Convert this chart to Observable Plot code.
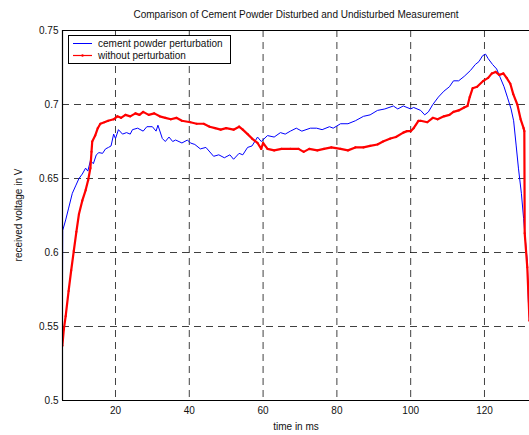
<!DOCTYPE html>
<html><head><meta charset="utf-8">
<script src="https://cdn.jsdelivr.net/npm/d3@7"></script>
<script src="https://cdn.jsdelivr.net/npm/@observablehq/plot@0.6"></script>
<style>
body{margin:0;background:#fff;font-family:"Liberation Sans",Arial,sans-serif;}
#wrap{position:relative;width:529px;height:435px;overflow:hidden;}
.lbl{position:absolute;font-size:10px;color:#111;white-space:nowrap;}
#legend{position:absolute;left:68px;top:35px;width:161px;height:27px;border:1px solid #000;background:#fff;}
</style></head>
<body><div id="wrap"></div>
<script>
const title = "Comparison of Cement Powder Disturbed and Undisturbed Measurement";
const xLabel = "time in ms";
const yLabel = "received voltage in V";
const seriesNames = ["cement powder perturbation", "without perturbation"];
const xTicks = [20, 40, 60, 80, 100, 120];
const yTicks = [0.5, 0.55, 0.6, 0.65, 0.7, 0.75];

const cementTime = [5.6,5.7,6.5,7.3,8.3,9.2,10.1,11.0,11.9,12.5,13.2,14.0,14.8,15.5,16.5,17.3,18.1,18.8,19.5,20.0,20.8,21.9,23.0,24.0,24.6,26.0,27.5,28.5,30.0,31.0,31.5,32.7,33.5,34.5,35.5,36.3,38.0,39.5,40.3,41.5,43.0,44.5,46.6,48.0,49.5,51.0,52.0,53.5,54.5,55.8,57.0,58.5,59.5,61.2,63.0,64.7,66.0,67.4,69.0,70.5,72.8,74.5,76.0,78.0,79.0,81.0,83.0,85.0,87.2,89.0,91.0,93.0,95.3,96.5,98.0,100.0,100.8,102.7,103.8,104.8,106.0,107.5,109.0,110.5,111.6,113.0,114.5,116.2,117.5,118.5,119.5,120.3,121.0,122.2,123.3,124.3,125.3,126.2,127.2,127.9,128.6,129.2,130.0,130.6,131.2,131.6,131.9,132.2];
const cementVolt = [0.548,0.615,0.622,0.630,0.640,0.645,0.650,0.653,0.657,0.655,0.662,0.660,0.666,0.6675,0.667,0.670,0.671,0.672,0.680,0.677,0.683,0.680,0.681,0.680,0.683,0.684,0.682,0.685,0.685,0.682,0.686,0.677,0.675,0.678,0.675,0.676,0.674,0.676,0.674,0.673,0.670,0.671,0.665,0.666,0.664,0.666,0.663,0.667,0.666,0.671,0.672,0.678,0.675,0.679,0.678,0.681,0.680,0.682,0.684,0.682,0.684,0.684,0.683,0.685,0.684,0.687,0.687,0.689,0.692,0.693,0.696,0.697,0.699,0.697,0.699,0.697,0.698,0.696,0.693,0.695,0.700,0.705,0.709,0.712,0.716,0.716,0.719,0.723,0.727,0.729,0.733,0.734,0.731,0.727,0.724,0.718,0.712,0.705,0.697,0.689,0.672,0.657,0.640,0.623,0.605,0.594,0.567,0.555];

const plainTime = [5.6,6.0,6.5,7.3,8.0,8.7,9.4,10.1,11.0,11.9,12.6,13.2,13.5,13.7,14.5,15.2,15.9,17.0,18.0,19.5,20.5,21.5,22.7,24.0,25.4,26.5,27.5,29.0,30.5,32.0,33.5,35.0,36.5,38.0,40.3,42.0,43.9,45.5,47.0,48.5,50.0,52.0,53.5,54.5,55.8,57.0,58.5,59.5,60.0,61.2,63.0,65.0,67.4,69.6,71.0,72.5,74.7,76.5,78.5,81.0,83.0,85.0,87.2,89.0,91.0,92.5,94.5,96.0,98.0,99.0,100.0,100.8,102.1,102.7,104.5,106.0,107.3,109.0,110.5,111.6,113.0,114.5,115.4,116.0,116.8,118.0,119.7,121.0,122.0,123.0,124.0,125.1,126.0,127.0,127.8,128.9,129.8,130.6,130.8,130.9,131.6,132.2];
const plainVolt = [0.537,0.548,0.557,0.574,0.588,0.601,0.614,0.626,0.635,0.642,0.649,0.657,0.668,0.675,0.679,0.684,0.687,0.688,0.689,0.690,0.692,0.691,0.693,0.692,0.694,0.693,0.695,0.693,0.694,0.692,0.691,0.690,0.691,0.689,0.688,0.687,0.687,0.685,0.684,0.683,0.684,0.683,0.685,0.683,0.680,0.677,0.674,0.670,0.674,0.670,0.669,0.670,0.670,0.670,0.668,0.670,0.669,0.670,0.671,0.670,0.669,0.671,0.671,0.672,0.673,0.675,0.677,0.678,0.681,0.682,0.682,0.684,0.689,0.689,0.688,0.691,0.690,0.692,0.693,0.695,0.696,0.698,0.699,0.705,0.711,0.712,0.716,0.718,0.721,0.722,0.720,0.721,0.718,0.714,0.707,0.700,0.690,0.684,0.682,0.613,0.590,0.554];

const cement = cementTime.map((t, i) => ({t, v: cementVolt[i]}));
const plain = plainTime.map((t, i) => ({t, v: plainVolt[i]}));
const blue = "#0000ff", red = "#ff0000";

const chart = Plot.plot({
  width: 529, height: 435,
  marginLeft: 62, marginRight: 0, marginTop: 30, marginBottom: 35,
  style: {fontFamily: '"Liberation Sans", Arial, sans-serif', fontSize: "10px", color: "#111", background: "transparent"},
  x: {domain: [5.64, 132.2], ticks: xTicks, label: null},
  y: {domain: [0.5, 0.75], ticks: yTicks, label: null},
  marks: [
    Plot.ruleX(xTicks, {stroke: "#000", strokeOpacity: 0.75, strokeDasharray: "7,5"}),
    Plot.ruleY(yTicks.slice(1, -1), {stroke: "#000", strokeOpacity: 0.75, strokeDasharray: "7,5"}),
    Plot.line(cement, {x: "t", y: "v", stroke: blue, strokeWidth: 1, clip: true}),
    Plot.line(plain, {x: "t", y: "v", stroke: red, strokeWidth: 2.2, clip: true}),
    Plot.dot(plain, {x: "t", y: "v", fill: red, r: 1.1, clip: true}),
    Plot.ruleX([5.64], {stroke: "#000", strokeWidth: 1.2}),
    Plot.ruleY([0.5, 0.75], {stroke: "#000", strokeWidth: 1.2}),
    Plot.axisX({ticks: xTicks, tickSize: 0, tickPadding: 6, label: null}),
    Plot.axisY({ticks: yTicks, tickSize: 0, tickPadding: 4, label: null, tickFormat: d => String(+d.toFixed(2))})
  ]
});
const wrap = document.getElementById("wrap");
wrap.appendChild(chart);

function addLabel(text, css) {
  const d = document.createElement("div");
  d.className = "lbl";
  d.textContent = text;
  Object.assign(d.style, css);
  wrap.appendChild(d);
  return d;
}
addLabel(title, {left: "296px", top: "9px", transform: "translateX(-50%)"});
addLabel(xLabel, {left: "296px", top: "421px", transform: "translateX(-50%)"});
addLabel(yLabel, {left: "18px", top: "215px", transform: "translate(-50%,-50%) rotate(-90deg)"});

const leg = document.createElement("div");
leg.id = "legend";
leg.innerHTML = `<svg width="161" height="27" style="display:block;font-family:'Liberation Sans',Arial,sans-serif;font-size:10px">
<line x1="4" x2="23" y1="7.5" y2="7.5" stroke="${blue}" stroke-width="1"/>
<text x="29" y="11" fill="#111">${seriesNames[0]}</text>
<line x1="4" x2="23" y1="19.5" y2="19.5" stroke="${red}" stroke-width="1.2"/>
<circle cx="13.5" cy="19.5" r="1.2" fill="${red}"/>
<text x="29" y="23" fill="#111">${seriesNames[1]}</text></svg>`;
wrap.appendChild(leg);
</script></body></html>
